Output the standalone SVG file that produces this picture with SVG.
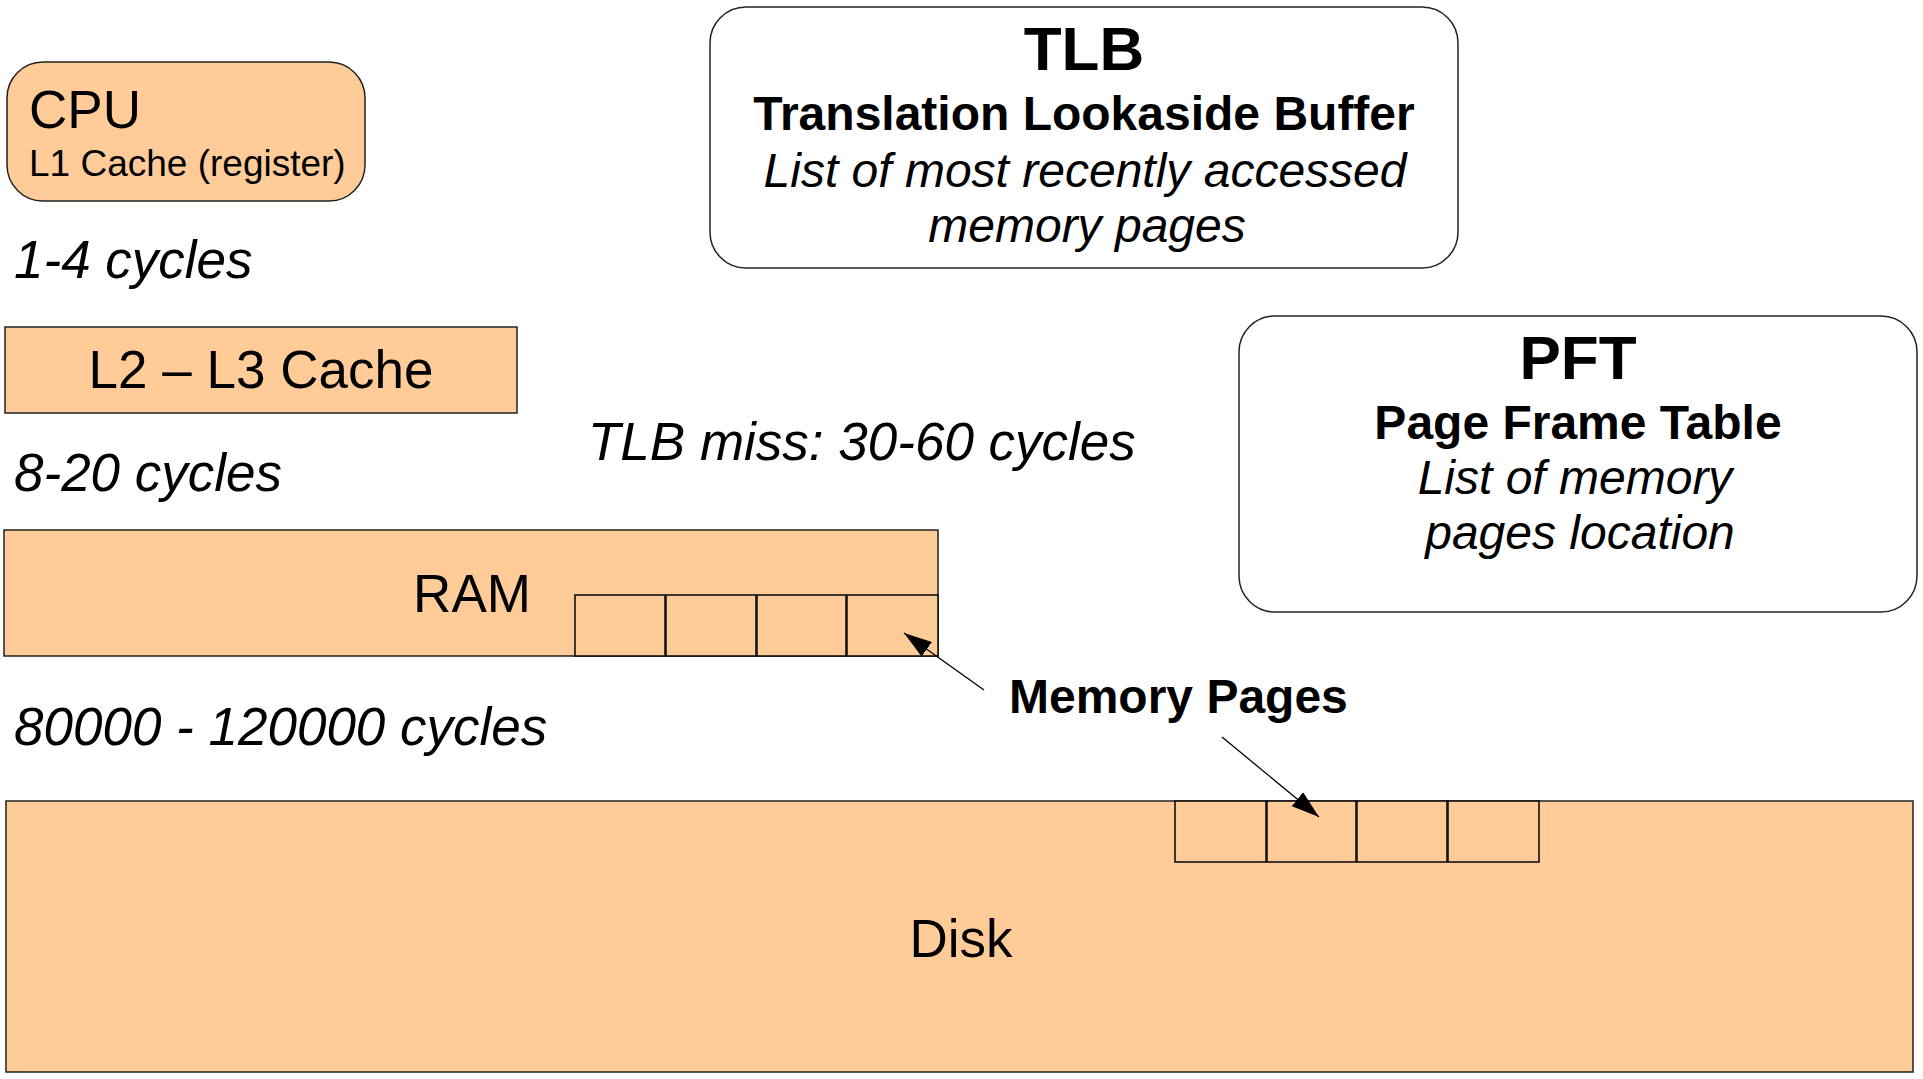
<svg xmlns="http://www.w3.org/2000/svg" width="1923" height="1079" viewBox="0 0 1923 1079">
  <defs>
    <style>
      .mem { fill: #ffcc99; stroke: #222; stroke-width: 1.5; }
      .page { fill: #ffcc99; stroke: #111; stroke-width: 1.6; }
      .info { fill: #ffffff; stroke: #222; stroke-width: 1.5; }
      text { font-family: "Liberation Sans", Arial, sans-serif; fill: #000; }
      .big { font-size: 53px; }
      .small { font-size: 37px; }
      .lat { font-size: 53px; font-style: italic; }
      .title { font-size: 62px; font-weight: bold; text-anchor: middle; }
      .sub { font-size: 48px; font-weight: bold; text-anchor: middle; }
      .desc { font-size: 48px; font-style: italic; text-anchor: middle; }
      .lbl { font-size: 48px; font-weight: bold; }
      .mid { text-anchor: middle; }
      .conn { stroke: #000; stroke-width: 1.3; fill: none; }
    </style>
    <marker id="head" markerUnits="userSpaceOnUse" markerWidth="28" markerHeight="18" refX="28" refY="9" orient="auto">
      <path d="M0,0 L28,9 L0,18 z" fill="#000"/>
    </marker>
  </defs>

  <rect width="1923" height="1079" fill="#ffffff"/>

  <!-- CPU with L1 cache -->
  <g id="cpu">
    <rect class="mem" x="7" y="62" width="358" height="139" rx="36" ry="36"/>
    <text class="big" x="29" y="128">CPU</text>
    <text class="small" x="29" y="176">L1 Cache (register)</text>
  </g>

  <text class="lat" x="14" y="278">1-4 cycles</text>

  <!-- L2 / L3 cache -->
  <g id="l2l3">
    <rect class="mem" x="5" y="327" width="512" height="86"/>
    <text class="big mid" x="261" y="388">L2 – L3 Cache</text>
  </g>

  <text class="lat" x="14" y="491">8-20 cycles</text>
  <text class="lat" x="588" y="460">TLB miss: 30-60 cycles</text>

  <!-- RAM with resident pages -->
  <g id="ram">
    <rect class="mem" x="4" y="530" width="934" height="126"/>
    <text class="big mid" x="472" y="612">RAM</text>
    <rect class="page" x="575" y="595" width="90" height="61"/>
    <rect class="page" x="666" y="595" width="90" height="61"/>
    <rect class="page" x="757" y="595" width="89" height="61"/>
    <rect class="page" x="847" y="595" width="91" height="61"/>
  </g>

  <text class="lat" x="14" y="745">80000 - 120000 cycles</text>

  <!-- Disk with swapped pages -->
  <g id="disk">
    <rect class="mem" x="6" y="801" width="1907" height="271"/>
    <text class="big mid" x="961" y="957">Disk</text>
    <rect class="page" x="1175" y="801" width="91" height="61"/>
    <rect class="page" x="1267" y="801" width="89" height="61"/>
    <rect class="page" x="1357" y="801" width="90" height="61"/>
    <rect class="page" x="1448" y="801" width="91" height="61"/>
  </g>

  <!-- Translation Lookaside Buffer -->
  <g id="tlb">
    <rect class="info" x="710" y="7" width="748" height="261" rx="36" ry="36"/>
    <text class="title" x="1084" y="70">TLB</text>
    <text class="sub" x="1084" y="130">Translation Lookaside Buffer</text>
    <text class="desc" x="1085" y="187">List of most recently accessed</text>
    <text class="desc" x="1087" y="242">memory pages</text>
  </g>

  <!-- Page Frame Table -->
  <g id="pft">
    <rect class="info" x="1239" y="316" width="678" height="296" rx="36" ry="36"/>
    <text class="title" x="1578" y="379">PFT</text>
    <text class="sub" x="1578" y="439">Page Frame Table</text>
    <text class="desc" x="1575" y="494">List of memory</text>
    <text class="desc" x="1580" y="549">pages location</text>
  </g>

  <g id="memory-pages-label">
    <text class="lbl" x="1009" y="713">Memory Pages</text>
  </g>

  <!-- Pointers from the label to the pages -->
  <g id="connectors">
    <line class="conn" x1="984" y1="690" x2="904" y2="633" marker-end="url(#head)"/>
    <line class="conn" x1="1222" y1="737" x2="1319" y2="817" marker-end="url(#head)"/>
  </g>
</svg>
